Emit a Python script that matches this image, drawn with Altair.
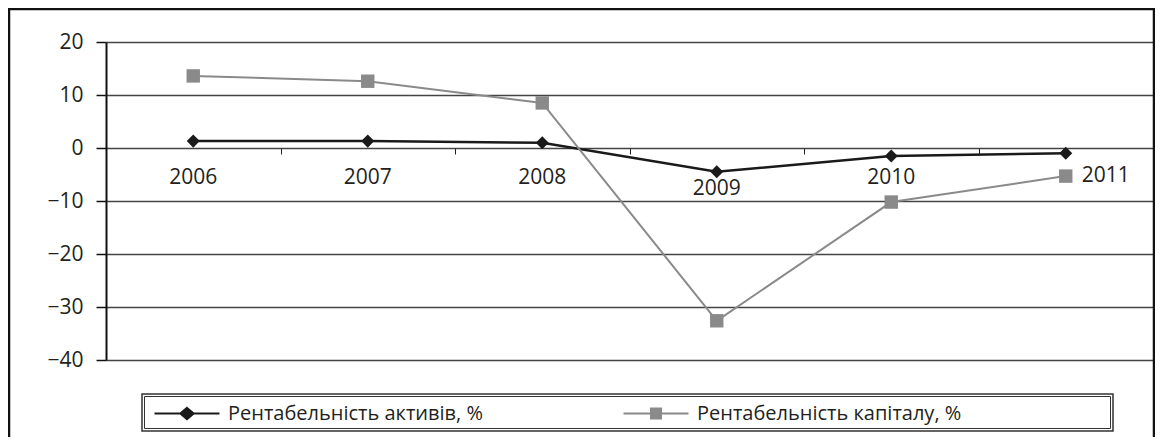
import altair as alt
import pandas as pd

# ---- data ----
years = ["2006", "2007", "2008", "2009", "2010", "2011"]
assets = [1.3, 1.3, 1.0, -4.5, -1.5, -1.0]
capital = [13.6, 12.6, 8.5, -32.6, -10.2, -5.3]
series_names = ["Рентабельність активів, %", "Рентабельність капіталу, %"]
y_ticks = [-40, -30, -20, -10, 0, 10, 20]
y_domain = [-40, 20]

df = pd.DataFrame({
    "year": years * 2,
    "value": assets + capital,
    "series": [series_names[0]] * len(years) + [series_names[1]] * len(years),
})
labels_df = pd.DataFrame({"year": years})

# ---- styling ----
W, H = 1047, 318
FONT = "Open Sans"
TXT = "#231f20"
BLACK = "#1a1a1a"
GRAY = "#8a8a8a"
zero_offset = -H * (0 - y_domain[0]) / (y_domain[1] - y_domain[0])  # move x axis to y=0

x_scale = alt.Scale(type="band", domain=years, paddingInner=0, paddingOuter=0)
x_axis = alt.Axis(orient="bottom", offset=zero_offset, domain=False, labels=False,
                  ticks=True, tickBand="extent", tickSize=6, tickColor="#222",
                  tickWidth=1, grid=False, title=None)
y_scale = alt.Scale(domain=y_domain, nice=False, zero=False)
y_axis = alt.Axis(values=y_ticks, tickSize=10, tickColor="#111", tickWidth=1.5,
                  domainColor="#111", domainWidth=2, labelFontSize=21, labelFont=FONT,
                  labelColor=TXT, labelPadding=13, grid=True, gridColor="#444",
                  gridWidth=1.3, title=None)

x_enc = alt.X("year:N", sort=years, scale=x_scale, axis=x_axis)
y_enc = alt.Y("value:Q", scale=y_scale, axis=y_axis)

sel_a = alt.datum.series == series_names[0]
sel_c = alt.datum.series == series_names[1]

line_a = alt.Chart(df).transform_filter(sel_a).mark_line(
    color=BLACK, strokeWidth=2.5).encode(x=x_enc, y=y_enc)
pts_a = alt.Chart(df).transform_filter(sel_a).mark_point(
    shape="diamond", filled=True, size=170, color=BLACK, opacity=1).encode(x=x_enc, y=y_enc)
line_c = alt.Chart(df).transform_filter(sel_c).mark_line(
    color=GRAY, strokeWidth=2).encode(x=x_enc, y=y_enc)
pts_c = alt.Chart(df).transform_filter(sel_c).mark_point(
    shape="square", filled=True, size=180, color=GRAY, opacity=1).encode(x=x_enc, y=y_enc)

# ---- legend (built from the series scale) ----
diamond_path = "M-1,0L1,0M0,-0.17L0.2,0L0,0.17L-0.2,0Z"
square_path = "M-1,0L1,0M-0.15,-0.15L0.15,-0.15L0.15,0.15L-0.15,0.15Z"
leg = alt.Legend(orient="none", legendX=47, legendY=337.5, direction="horizontal",
                 symbolSize=4225, symbolStrokeWidth=2.2, symbolOpacity=1,
                 labelFont=FONT, labelFontSize=20, labelColor=TXT, labelOffset=7,
                 labelLimit=500, columnPadding=136, padding=0)
color_scale = alt.Scale(domain=series_names, range=[BLACK, GRAY])
shape_scale = alt.Scale(domain=series_names, range=[diamond_path, square_path])
legend_layer = alt.Chart(df).mark_point(filled=True, opacity=0).encode(
    x=x_enc, y=y_enc,
    fill=alt.Fill("series:N", scale=color_scale, legend=leg, title=None),
    stroke=alt.Stroke("series:N", scale=color_scale, legend=leg, title=None),
    shape=alt.Shape("series:N", scale=shape_scale, legend=leg, title=None),
)

# ---- category labels near the zero line ----
y_zero = alt.YDatum(0, type="quantitative", scale=y_scale, axis=y_axis)
txt_kw = dict(font=FONT, fontSize=21, color=TXT, baseline="middle", align="center")
lab_main = alt.Chart(labels_df).transform_filter(
    alt.FieldOneOfPredicate(field="year", oneOf=["2006", "2007", "2008", "2010"])
).mark_text(dy=30, **txt_kw).encode(x=x_enc, y=y_zero, text="year:N")
lab_2009 = alt.Chart(labels_df).transform_filter(alt.datum.year == "2009").mark_text(
    dy=41, **txt_kw).encode(x=x_enc, y=y_zero, text="year:N")
lab_2011 = alt.Chart(labels_df).transform_filter(alt.datum.year == "2011").mark_text(
    dy=28, dx=40, **txt_kw).encode(x=x_enc, y=y_zero, text="year:N")

# ---- decorations: outer frame and legend box ----
one = alt.Data(values=[{}])
frame = alt.Chart(one).mark_rect(filled=False, stroke="#111", strokeWidth=2.5).encode(
    x=alt.value(-97), x2=alt.value(1048), y=alt.value(-33), y2=alt.value(700))
box_outer = alt.Chart(one).mark_rect(filled=False, stroke="#333", strokeWidth=1.5).encode(
    x=alt.value(36), x2=alt.value(1007), y=alt.value(352), y2=alt.value(389))
box_inner = alt.Chart(one).mark_rect(filled=False, stroke="#333", strokeWidth=1).encode(
    x=alt.value(38.5), x2=alt.value(1004.5), y=alt.value(354.5), y2=alt.value(386.5))

chart = alt.layer(
    frame, box_outer, box_inner,
    line_a, pts_a, line_c, pts_c, legend_layer,
    lab_main, lab_2009, lab_2011,
).properties(
    width=W, height=H,
    autosize=alt.AutoSizeParams(type="none"),
    padding={"left": 98, "top": 34, "right": 2, "bottom": 77},
    background="white",
).configure_view(strokeWidth=0).configure(font=FONT)

chart.save("out.html", embed_options={"renderer": "svg", "actions": False})
